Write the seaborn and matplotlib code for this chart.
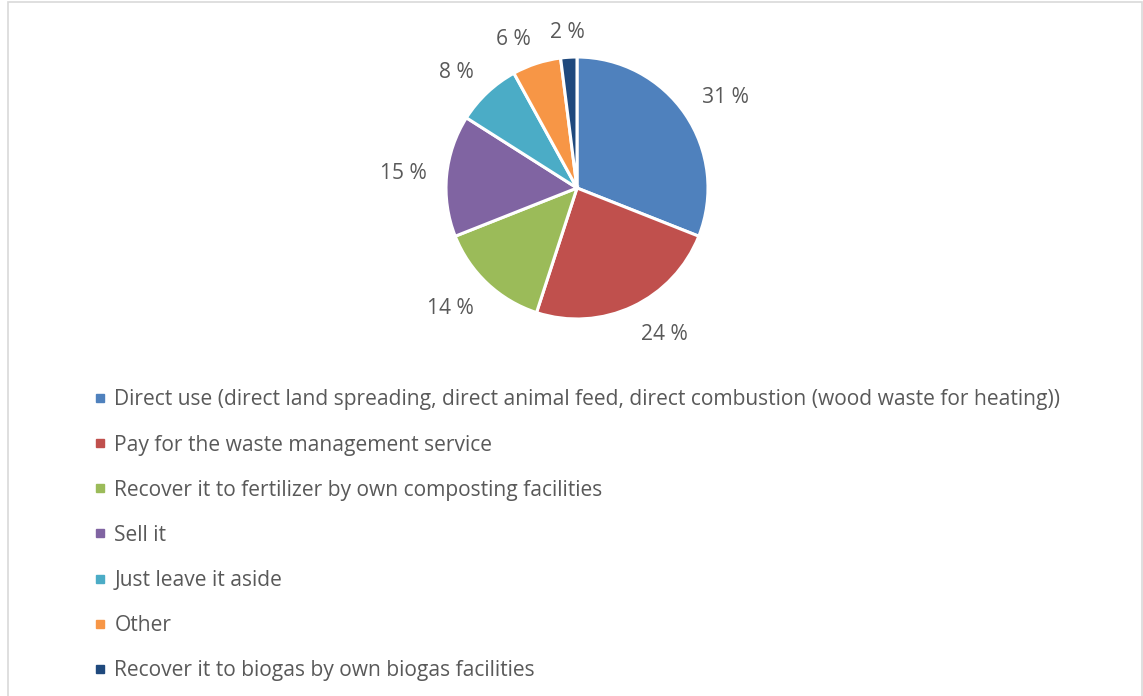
import matplotlib
matplotlib.use("Agg")
import numpy as np
import matplotlib.pyplot as plt
from matplotlib.patches import Rectangle
from matplotlib.lines import Line2D
import seaborn as sns

# Share of respondents by how they handle their organic waste
categories = [
    "Direct use (direct land spreading, direct animal feed, direct combustion (wood waste for heating))",
    "Pay for the waste management service",
    "Recover it to fertilizer by own composting facilities",
    "Sell it",
    "Just leave it aside",
    "Other",
    "Recover it to biogas by own biogas facilities",
]
shares = [31, 24, 14, 15, 8, 6, 2]
colors = ["#4F81BD", "#C0504D", "#9BBB59", "#8064A2", "#4BACC6", "#F79646", "#1F497D"]

sns.set_theme(style="white")
plt.rcParams["font.family"] = ["Open Sans", "DejaVu Sans"]
text_color = "#595959"
font_size = 15.1
palette = sns.color_palette(colors)

W, H = 1143, 696
fig = plt.figure(figsize=(W / 100, H / 100), dpi=100)
fig.patch.set_facecolor("white")

# light outer frame
fig.add_artist(Rectangle((8 / W, -0.05), (1142 - 8) / W, 1.05 - 2 / H,
                         transform=fig.transFigure, fill=False,
                         edgecolor="#D9D9D9", linewidth=1.2))

# pie axes: centre (577, 188) px, radius 131 px
cx, cy, r = 577, 188, 131
lim = 1.6
side = 2 * lim * r
ax = fig.add_axes([(cx - side / 2) / W, (H - cy - side / 2) / H, side / W, side / H])
wedges, _ = ax.pie(
    shares, colors=palette, startangle=90, counterclock=False,
    wedgeprops=dict(edgecolor="white", linewidth=2.2),
)
ax.set_xlim(-lim, lim)
ax.set_ylim(-lim, lim)
ax.set_aspect("equal")
ax.axis("off")

# value labels just outside each wedge, anchored on the side facing the pie
for w, v in zip(wedges, shares):
    ang = np.deg2rad((w.theta1 + w.theta2) / 2)
    c, s = np.cos(ang), np.sin(ang)
    ha = "left" if c > 0.15 else ("right" if c < -0.15 else "center")
    va = "baseline" if s > 0.15 else ("top" if s < -0.15 else "center")
    ax.text(1.15 * c, 1.15 * s, f"{v} %", ha=ha, va=va,
            color=text_color, fontsize=font_size)

handles = [Line2D([0], [0], marker="s", linestyle="none", markersize=5.8,
                  markerfacecolor=c, markeredgecolor=c) for c in palette]
fig.legend(handles, categories, loc="upper left",
           bbox_to_anchor=(86 / W, 1 - 381 / H), frameon=False,
           fontsize=font_size, labelcolor=text_color, handlelength=0.55,
           handletextpad=0.4, labelspacing=1.15, borderaxespad=0)

fig.savefig("out.png", dpi=100, facecolor="white")
